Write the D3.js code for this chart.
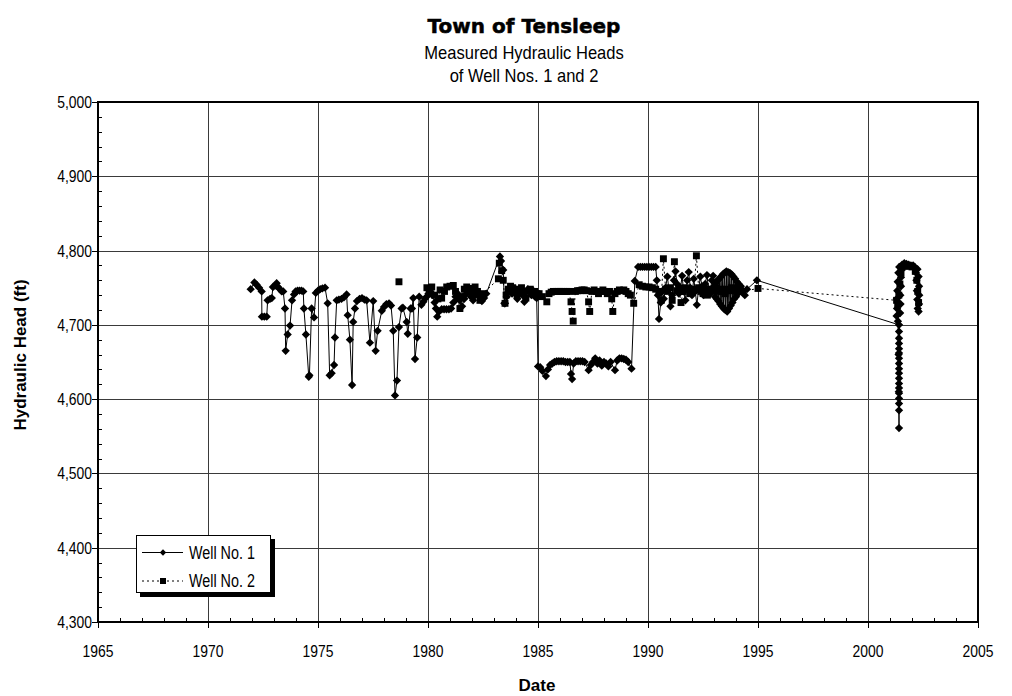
<!DOCTYPE html>
<html>
<head>
<meta charset="utf-8">
<script src="https://cdn.jsdelivr.net/npm/d3@7"></script>
<style>
  body { margin: 0; background: #fff; }
  svg { display: block; }
  text { font-family: "Liberation Sans", Arial, sans-serif; fill: #000; }
</style>
</head>
<body>
<svg width="1012" height="696"></svg>
<script>
// Well No. 1 : [decimal year, hydraulic head ft]
const well1 = [
  [1971.94,4748],[1972.11,4757],[1972.21,4754],[1972.32,4750],[1972.44,4745],[1972.45,4711],[1972.56,4711],[1972.67,4711],
  [1972.71,4733],[1972.82,4735],[1972.90,4736],[1972.95,4751],[1973.05,4753],[1973.12,4756],[1973.18,4751],[1973.27,4748],
  [1973.35,4745],[1973.42,4745],[1973.50,4722],[1973.53,4665],[1973.62,4687],[1973.73,4699],[1973.82,4733],[1973.91,4741],
  [1973.98,4745],[1974.07,4746],[1974.16,4746],[1974.25,4746],[1974.33,4745],[1974.36,4722],[1974.45,4687],[1974.58,4630],
  [1974.61,4632],[1974.71,4722],[1974.82,4710],[1974.90,4743],[1975.00,4746],[1975.10,4748],[1975.20,4749],[1975.32,4750],
  [1975.44,4729],[1975.53,4632],[1975.62,4635],[1975.73,4646],[1975.77,4683],[1975.85,4733],[1975.95,4734],[1976.07,4735],
  [1976.18,4737],[1976.30,4741],[1976.35,4713],[1976.45,4680],[1976.55,4619],[1976.60,4704],[1976.68,4722],[1976.77,4732],
  [1976.89,4735],[1977.00,4736],[1977.11,4734],[1977.21,4733],[1977.36,4676],[1977.51,4732],[1977.62,4665],[1977.71,4692],
  [1977.90,4719],[1978.00,4724],[1978.11,4728],[1978.23,4729],[1978.32,4726],[1978.42,4692],[1978.50,4605],[1978.59,4625],
  [1978.68,4697],[1978.80,4722],[1978.86,4723],[1979.03,4704],[1979.08,4688],[1979.21,4722],[1979.27,4722],[1979.33,4736],
  [1979.41,4654],[1979.51,4683],[1979.60,4738],[1979.70,4727],[1979.79,4731],[1979.86,4735],[1979.94,4738],[1980.02,4742],
  [1980.11,4745],[1980.20,4740],[1980.30,4730],[1980.36,4722],[1980.42,4711],[1980.50,4718],[1980.62,4721],[1980.73,4721],
  [1980.84,4721],[1980.95,4721],[1981.05,4722],[1981.15,4730],[1981.25,4738],[1981.35,4742],[1981.45,4733],[1981.55,4725],
  [1981.65,4735],[1981.75,4742],[1981.85,4746],[1981.95,4738],[1982.05,4733],[1982.15,4740],[1982.25,4745],[1982.35,4738],
  [1982.45,4732],[1982.55,4736],[1982.65,4742],[1983.27,4792],[1983.32,4786],[1983.42,4774],[1983.47,4729],[1983.50,4729],
  [1983.58,4738],[1983.66,4745],[1983.74,4748],[1983.82,4742],[1983.90,4746],[1983.98,4748],[1984.06,4735],[1984.14,4745],
  [1984.22,4748],[1984.30,4740],[1984.38,4731],[1984.46,4745],[1984.54,4748],[1984.62,4746],[1984.70,4740],[1984.78,4746],
  [1984.86,4738],[1984.94,4736],[1985.00,4644],[1985.10,4643],[1985.20,4638],[1985.36,4631],[1985.45,4640],[1985.55,4646],
  [1985.65,4648],[1985.75,4650],[1985.85,4651],[1985.95,4651],[1986.05,4651],[1986.15,4651],[1986.25,4650],[1986.35,4650],
  [1986.45,4650],[1986.50,4634],[1986.55,4627],[1986.62,4648],[1986.72,4651],[1986.82,4651],[1986.92,4651],[1987.02,4651],
  [1987.12,4650],[1987.30,4639],[1987.40,4646],[1987.50,4650],[1987.60,4655],[1987.70,4648],[1987.80,4652],[1987.90,4645],
  [1988.00,4650],[1988.10,4648],[1988.20,4644],[1988.30,4650],[1988.50,4639],[1988.60,4652],[1988.70,4655],[1988.80,4655],
  [1988.90,4654],[1989.00,4653],[1989.10,4650],[1989.25,4641],[1989.40,4759],[1989.55,4778],[1989.65,4778],[1989.75,4778],
  [1989.85,4778],[1989.95,4778],[1990.05,4778],[1990.15,4778],[1990.25,4778],[1990.35,4778],[1990.40,4760],[1990.45,4740],
  [1990.50,4708],[1990.58,4730],[1990.65,4745],[1990.72,4735],[1990.80,4750],[1990.88,4765],[1990.95,4748],[1991.02,4725],
  [1991.10,4740],[1991.18,4760],[1991.25,4772],[1991.32,4755],[1991.40,4742],[1991.48,4750],[1991.55,4766],[1991.62,4745],
  [1991.70,4733],[1991.78,4760],[1991.85,4771],[1991.92,4750],[1992.00,4740],[1992.08,4762],[1992.15,4745],[1992.22,4727],
  [1992.30,4748],[1992.38,4765],[1992.45,4752],[1992.52,4740],[1992.60,4755],[1992.68,4767],[1992.75,4748],[1992.82,4742],
  [1992.90,4760],[1992.96,4766],[1993.00,4752],[1993.04,4738],[1993.08,4756],[1993.12,4735],[1993.16,4760],[1993.20,4732],
  [1993.24,4762],[1993.28,4728],[1993.32,4765],[1993.36,4725],[1993.40,4768],[1993.44,4722],[1993.48,4770],[1993.52,4720],
  [1993.56,4772],[1993.60,4718],[1993.64,4771],[1993.68,4722],[1993.72,4770],[1993.76,4726],[1993.80,4768],[1993.84,4730],
  [1993.88,4765],[1993.92,4735],[1993.96,4762],[1994.00,4738],[1994.04,4758],[1994.08,4742],[1994.12,4755],[1994.16,4745],
  [1994.22,4752],[1994.30,4745],[1994.40,4740],[1994.50,4748],[1994.95,4760],
  [2001.41,4700],[2001.41,4691],[2001.41,4682],[2001.41,4675],[2001.41,4668],[2001.41,4662],[2001.41,4655],[2001.41,4648],
  [2001.41,4641],[2001.41,4635],[2001.41,4628],[2001.41,4621],[2001.41,4615],[2001.41,4608],[2001.41,4601],[2001.41,4594],
  [2001.41,4585],[2001.41,4561],[2001.40,4610],[2001.39,4660],[2001.36,4705],[2001.30,4712],[2001.46,4716],[2001.32,4722],
  [2001.48,4728],[2001.31,4735],[2001.47,4740],[2001.33,4746],[2001.50,4752],[2001.35,4758],[2001.50,4764],[2001.38,4770],
  [2001.52,4774],[2001.42,4778],[2001.55,4781],[2001.65,4783],[2001.75,4782],[2001.85,4781],[2001.95,4780],[2002.05,4780],
  [2002.12,4778],[2002.25,4775],[2002.18,4770],[2002.30,4765],[2002.20,4760],[2002.32,4752],[2002.22,4746],[2002.33,4740],
  [2002.24,4734],[2002.32,4728],[2002.26,4722],[2002.30,4718]
];

// Well No. 2 : [decimal year, hydraulic head ft]
const well2Single = [[1978.68,4758]];
const well2 = [
  [1979.95,4750],[1980.05,4748],[1980.17,4751],[1980.30,4740],[1980.45,4735],[1980.55,4747],[1980.62,4736],
  [1980.75,4745],[1980.85,4751],[1981.00,4752],[1981.15,4753],[1981.25,4745],[1981.35,4735],[1981.45,4722],[1981.53,4738],
  [1981.65,4748],[1981.76,4751],[1981.90,4749],[1982.00,4745],[1982.14,4751],[1982.25,4745],[1982.36,4733],[1982.51,4742],
  [1983.20,4762],[1983.24,4783],[1983.35,4773],[1983.42,4760],[1983.50,4729],[1983.55,4740],[1983.65,4748],[1983.75,4752],
  [1983.85,4750],[1983.95,4745],[1984.05,4740],[1984.15,4748],[1984.25,4750],[1984.35,4745],[1984.45,4736],[1984.55,4745],
  [1984.65,4748],[1984.75,4742],[1984.85,4745],[1984.95,4742],[1985.05,4742],[1985.20,4738],[1985.40,4731],[1985.50,4742],
  [1985.60,4744],[1985.70,4745],[1985.80,4745],[1985.90,4745],[1986.00,4745],[1986.10,4745],[1986.20,4745],[1986.30,4745],
  [1986.40,4745],[1986.50,4731],[1986.55,4718],[1986.60,4705],[1986.70,4745],[1986.80,4746],[1986.90,4746],[1987.00,4747],
  [1987.10,4747],[1987.20,4746],[1987.30,4731],[1987.35,4718],[1987.45,4745],[1987.55,4747],[1987.65,4745],[1987.75,4742],
  [1987.85,4745],[1987.95,4747],[1988.05,4745],[1988.15,4742],[1988.25,4745],[1988.35,4735],[1988.40,4718],[1988.50,4742],
  [1988.60,4745],[1988.70,4747],[1988.80,4746],[1988.90,4747],[1989.00,4745],[1989.10,4742],[1989.20,4740],[1989.35,4729],
  [1989.60,4754],[1989.75,4752],[1989.90,4751],[1990.05,4751],[1990.20,4750],[1990.35,4748],[1990.50,4745],[1990.60,4733],
  [1990.70,4789],[1990.80,4748],[1990.90,4745],[1991.00,4750],[1991.10,4733],[1991.20,4785],[1991.30,4746],[1991.40,4748],
  [1991.50,4730],[1991.60,4745],[1991.70,4750],[1991.80,4748],[1991.90,4742],[1992.00,4746],[1992.10,4748],[1992.20,4793],
  [1992.30,4750],[1992.40,4745],[1992.50,4742],[1992.60,4748],[1992.70,4740],[1992.80,4745],[1992.90,4748],[1993.00,4746],
  [1993.10,4750],[1993.20,4745],[1993.30,4748],[1993.40,4745],[1993.50,4742],[1993.60,4748],[1993.70,4746],[1993.80,4750],
  [1993.90,4748],[1994.00,4745],[1994.10,4750],[1994.20,4748],[1994.30,4745],[1995.00,4749],
  [2001.30,4733],[2001.35,4728],[2001.40,4740],[2001.45,4755],[2001.50,4770],[2001.55,4778],[2001.70,4779],[2001.85,4779],
  [2002.00,4778],[2002.15,4772],[2002.22,4760],[2002.26,4745],[2002.30,4730]
];

const xTicks = [1965, 1970, 1975, 1980, 1985, 1990, 1995, 2000, 2005];
const yTicks = [4300, 4400, 4500, 4600, 4700, 4800, 4900, 5000];
const titleLines = ["Town of Tensleep", "Measured Hydraulic Heads", "of Well Nos. 1 and 2"];
const seriesNames = ["Well No. 1", "Well No. 2"];

const svg = d3.select("svg");
const pL = 98, pR = 978, pT = 102, pB = 622;
const narrow = 0.82;

const x = d3.scaleLinear().domain([1965, 2005]).range([pL, pR]);
const y = d3.scaleLinear().domain([4300, 5000]).range([pB, pT]);

// narrow text helper (Arial Narrow look)
function ntext(parent, tx, ty, str, size, anchor, sx) {
  return parent.append("text")
    .attr("transform", `translate(${tx},${ty}) scale(${sx || narrow},1)`)
    .attr("text-anchor", anchor || "start")
    .style("font-size", size + "px")
    .text(str);
}

// titles
svg.append("text").attr("x", 524).attr("y", 33).attr("text-anchor", "middle")
  .style("font-family", "'DejaVu Sans', sans-serif").style("font-weight", "bold").style("font-size", "20px")
  .attr("stroke", "#000").attr("stroke-width", 0.5)
  .text(titleLines[0]);
ntext(svg, 524, 59, titleLines[1], 18, "middle", 0.92);
ntext(svg, 524, 82, titleLines[2], 18, "middle", 0.92);

// grid
const grid = svg.append("g").attr("stroke", "#3a3a3a").attr("stroke-width", 1);
grid.selectAll(".vg").data(xTicks.slice(1, -1)).enter().append("line")
  .attr("x1", d => Math.round(x(d)) + 0.5).attr("x2", d => Math.round(x(d)) + 0.5).attr("y1", pT).attr("y2", pB);
grid.selectAll(".hg").data(yTicks.slice(1, -1)).enter().append("line")
  .attr("y1", d => Math.round(y(d)) + 0.5).attr("y2", d => Math.round(y(d)) + 0.5).attr("x1", pL).attr("x2", pR);

// minor ticks (inside)
const minorX = d3.range(1965, 2006, 1).filter(d => d % 5 !== 0);
const minorY = d3.range(4300, 5001, 20).filter(d => d % 100 !== 0);
const ticks = svg.append("g").attr("stroke", "#000").attr("stroke-width", 1);
ticks.selectAll(".mx").data(minorX).enter().append("line")
  .attr("x1", d => Math.round(x(d)) + 0.5).attr("x2", d => Math.round(x(d)) + 0.5).attr("y1", pB).attr("y2", pB - 4);
ticks.selectAll(".my").data(minorY).enter().append("line")
  .attr("y1", d => Math.round(y(d)) + 0.5).attr("y2", d => Math.round(y(d)) + 0.5).attr("x1", pL).attr("x2", pL + 4);
// major ticks (outside)
ticks.selectAll(".Mx").data(xTicks).enter().append("line")
  .attr("x1", d => Math.round(x(d)) + 0.5).attr("x2", d => Math.round(x(d)) + 0.5).attr("y1", pB).attr("y2", pB + 6);
ticks.selectAll(".My").data(yTicks).enter().append("line")
  .attr("y1", d => Math.round(y(d)) + 0.5).attr("y2", d => Math.round(y(d)) + 0.5).attr("x1", pL).attr("x2", pL - 6);

// border
svg.append("rect").attr("x", pL).attr("y", pT).attr("width", pR - pL).attr("height", pB - pT)
  .attr("fill", "none").attr("stroke", "#000").attr("stroke-width", 2);

// tick labels
const fmt = d3.format(",");
xTicks.forEach(d => ntext(svg, x(d), pB + 35, String(d), 17, "middle"));
yTicks.forEach(d => ntext(svg, pL - 6, y(d) + 6, fmt(d), 17, "end"));

// axis titles
svg.append("text").attr("x", 537).attr("y", 691).attr("text-anchor", "middle")
  .style("font-weight", "bold").style("font-size", "17px").text("Date");
svg.append("text").attr("transform", "translate(26,355) rotate(-90)").attr("text-anchor", "middle")
  .style("font-weight", "bold").style("font-size", "17px").text("Hydraulic Head (ft)");

// series
const line = d3.line().x(d => x(d[0])).y(d => y(d[1]));
const plot = svg.append("g");
plot.append("path").datum(well2).attr("d", line).attr("fill", "none")
  .attr("stroke", "#000").attr("stroke-width", 1).attr("stroke-dasharray", "2,3");
plot.append("path").datum(well1).attr("d", line).attr("fill", "none")
  .attr("stroke", "#000").attr("stroke-width", 1);

const diamond = d3.symbol().type(d3.symbolDiamond2).size(44);
const square = d3.symbol().type(d3.symbolSquare).size(48);
plot.selectAll(".p2").data(well2Single.concat(well2)).enter().append("path")
  .attr("d", square).attr("transform", d => `translate(${x(d[0])},${y(d[1])})`).attr("fill", "#000");
plot.selectAll(".p1").data(well1).enter().append("path")
  .attr("d", diamond).attr("transform", d => `translate(${x(d[0])},${y(d[1])})`).attr("fill", "#000");

// legend
const lg = svg.append("g").attr("transform", "translate(136,535)");
lg.append("rect").attr("x", 4).attr("y", 4).attr("width", 135).attr("height", 58).attr("fill", "#000");
lg.append("rect").attr("x", 0.5).attr("y", 0.5).attr("width", 134).attr("height", 57)
  .attr("fill", "#fff").attr("stroke", "#000");
const legendDiamond = d3.symbol().type(d3.symbolDiamond2).size(26);
const legendSquare = d3.symbol().type(d3.symbolSquare).size(36);
seriesNames.forEach((name, i) => {
  const yy = 17.5 + i * 28.5;
  lg.append("line").attr("x1", 6).attr("x2", 47).attr("y1", yy).attr("y2", yy)
    .attr("stroke", "#000").attr("stroke-dasharray", i ? "2,3" : null);
  lg.append("path").attr("d", i ? legendSquare : legendDiamond).attr("transform", `translate(27,${yy})`).attr("fill", "#000");
  ntext(lg, 53, yy + 6, name, 17.5, "start");
});
</script>
</body>
</html>
